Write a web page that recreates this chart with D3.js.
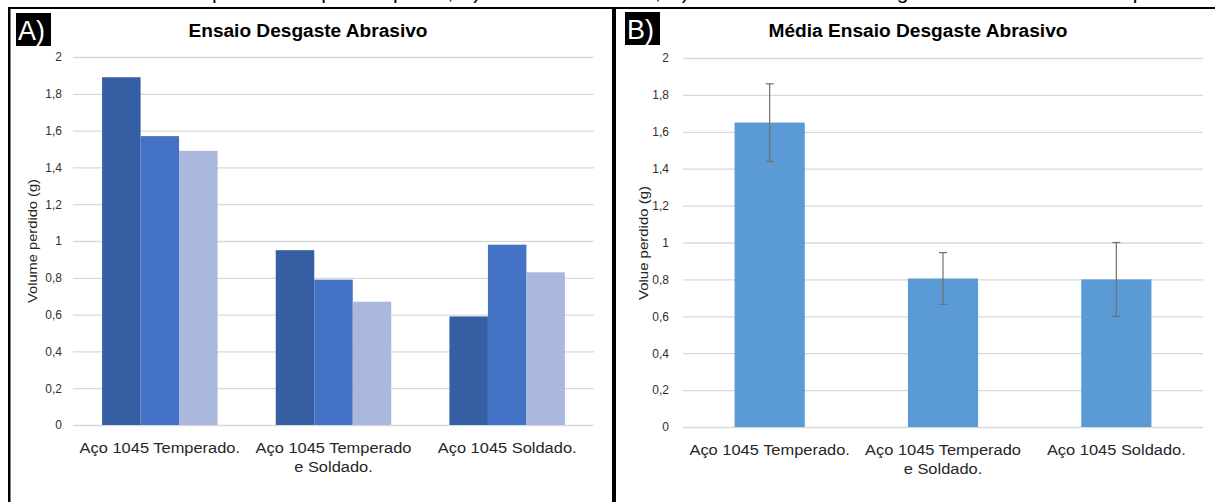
<!DOCTYPE html>
<html>
<head>
<meta charset="utf-8">
<script src="https://cdn.jsdelivr.net/npm/d3@7"></script>
<style>
  html, body { margin: 0; padding: 0; background: #fff; }
  svg { display: block; font-family: "Liberation Sans", Arial, sans-serif; }
</style>
</head>
<body>
<svg id="chart" width="1215" height="502"></svg>
<script>
// ---- data ----
const categories = ["Aço 1045 Temperado.", "Aço 1045 Temperado e Soldado.", "Aço 1045 Soldado."];
const categoryLines = [["Aço 1045 Temperado."], ["Aço 1045 Temperado", "e Soldado."], ["Aço 1045 Soldado."]];
const seriesNames = ["Ensaio 1", "Ensaio 2", "Ensaio 3"];
const ensaio1 = [1.89, 0.95, 0.59];
const ensaio2 = [1.57, 0.79, 0.98];
const ensaio3 = [1.49, 0.67, 0.83];
const mediaValues = [1.65, 0.805, 0.80];
const desvioValues = [0.21, 0.14, 0.20];
const yTicks = [0, 0.2, 0.4, 0.6, 0.8, 1, 1.2, 1.4, 1.6, 1.8, 2];
const titleA = "Ensaio Desgaste Abrasivo";
const titleB = "Média Ensaio Desgaste Abrasivo";
const yTitleA = "Volume perdido (g)";
const yTitleB = "Volue perdido (g)";
const headerText = "Resultados obtidos para os corpos de prova, A) Todos os ensaios, B) Média do ensaio desgaste abrasivo e desvio padrão";

const seriesColors = ["#365ea3", "#4472c4", "#a9b8dc"];
const barColorB = "#5b9bd5";

const svg = d3.select("#chart");
const fmt = d => String(+(+d).toFixed(1)).replace(".", ",");

// header text (cut off at the top edge, as in the source page)
svg.append("text").attr("x", 20).attr("y", -1).attr("font-size", 21).attr("fill", "#000")
  .attr("textLength", 1180).attr("lengthAdjust", "spacing").text(headerText);

// frame lines
svg.append("rect").attr("x", 8).attr("y", 7).attr("width", 1207).attr("height", 2).attr("fill", "#000");
svg.append("rect").attr("x", 8).attr("y", 7).attr("width", 2.5).attr("height", 495).attr("fill", "#000");
svg.append("rect").attr("x", 612).attr("y", 7).attr("width", 4).attr("height", 495).attr("fill", "#000");

function drawPanel(opts) {
  const g = svg.append("g");
  const y = d3.scaleLinear().domain([0, 2]).range([opts.y0, opts.y2]);
  const x = d3.scaleBand().domain(categories).range([opts.xl, opts.xr])
    .paddingInner(opts.pad).paddingOuter(opts.pad / 2);

  const axis = d3.axisLeft(y).tickValues(yTicks).tickFormat(fmt)
    .tickSize(-(opts.xr - opts.xl)).tickPadding(opts.tickPad);
  const ax = g.append("g").attr("transform", `translate(${opts.xl},0)`).call(axis);
  ax.select(".domain").remove();
  ax.selectAll(".tick line").attr("stroke", "#d9d9d9").attr("stroke-width", 1.3);
  ax.selectAll(".tick text").attr("font-size", 12).attr("fill", "#303030")
    .attr("font-family", "Liberation Sans, Arial, sans-serif");

  opts.drawBars(g, x, y);

  // x labels
  categories.forEach((c, i) => {
    const cx = x(c) + x.bandwidth() / 2;
    categoryLines[i].forEach((ln, j) => {
      const t = g.append("text").attr("text-anchor", "middle").attr("font-size", 15.5)
        .attr("fill", "#262626").attr("x", cx).attr("y", opts.y0 + 28 + j * 19).text(ln);
      const w = t.node().getComputedTextLength();
      t.attr("textLength", w * 1.06).attr("lengthAdjust", "spacingAndGlyphs");
    });
  });

  // title
  g.append("text").attr("x", opts.titleX).attr("y", opts.titleY).attr("text-anchor", "middle")
    .attr("font-size", 17.5).attr("font-weight", "bold")
    .attr("textLength", opts.titleLen).attr("lengthAdjust", "spacingAndGlyphs")
    .attr("fill", "#000").text(opts.title);

  // y title
  g.append("text").attr("transform", `translate(${opts.yTitleX},${opts.yTitleY}) rotate(-90)`)
    .attr("text-anchor", "middle").attr("font-size", 12).attr("fill", "#262626")
    .attr("textLength", opts.yTitleLen).attr("lengthAdjust", "spacingAndGlyphs").text(opts.yTitle);

  // panel label
  g.append("rect").attr("x", opts.lblX).attr("y", opts.lblY).attr("width", 35).attr("height", 33).attr("fill", "#000");
  g.append("text").attr("x", opts.lblX + 2).attr("y", opts.lblY + 27).attr("font-size", 27)
    .attr("fill", "#fff").text(opts.label);
}

drawPanel({
  xl: 73, xr: 594, y0: 425, y2: 57, pad: 0.335, tickPad: 11,
  title: titleA, titleX: 308, titleY: 37, titleLen: 239,
  yTitle: yTitleA, yTitleX: 37, yTitleY: 241, yTitleLen: 124,
  label: "A)", lblX: 16, lblY: 13,
  drawBars: (g, x, y) => {
    const x1 = d3.scaleBand().domain(seriesNames).range([0, x.bandwidth()]);
    const series = [ensaio1, ensaio2, ensaio3];
    categories.forEach((c, i) => {
      seriesNames.forEach((s, k) => {
        const v = series[k][i];
        g.append("rect").attr("x", x(c) + x1(s)).attr("width", x1.bandwidth())
          .attr("y", y(v)).attr("height", y(0) - y(v)).attr("fill", seriesColors[k]);
      });
    });
  }
});

drawPanel({
  xl: 683, xr: 1203, y0: 427, y2: 58, pad: 0.595, tickPad: 14,
  title: titleB, titleX: 918, titleY: 37, titleLen: 299,
  yTitle: yTitleB, yTitleX: 648, yTitleY: 243, yTitleLen: 114,
  label: "B)", lblX: 625, lblY: 12,
  drawBars: (g, x, y) => {
    categories.forEach((c, i) => {
      const v = mediaValues[i];
      g.append("rect").attr("x", x(c)).attr("width", x.bandwidth())
        .attr("y", y(v)).attr("height", y(0) - y(v)).attr("fill", barColorB);
    });
    categories.forEach((c, i) => {
      const cx = x(c) + x.bandwidth() / 2;
      const hi = y(mediaValues[i] + desvioValues[i]);
      const lo = y(mediaValues[i] - desvioValues[i]);
      g.append("line").attr("x1", cx).attr("x2", cx).attr("y1", hi).attr("y2", lo)
        .attr("stroke", "#6f6f6f").attr("stroke-width", 1.2);
      [hi, lo].forEach(yy => g.append("line").attr("x1", cx - 4).attr("x2", cx + 4)
        .attr("y1", yy).attr("y2", yy).attr("stroke", "#6f6f6f").attr("stroke-width", 1.2));
    });
  }
});
</script>
</body>
</html>
